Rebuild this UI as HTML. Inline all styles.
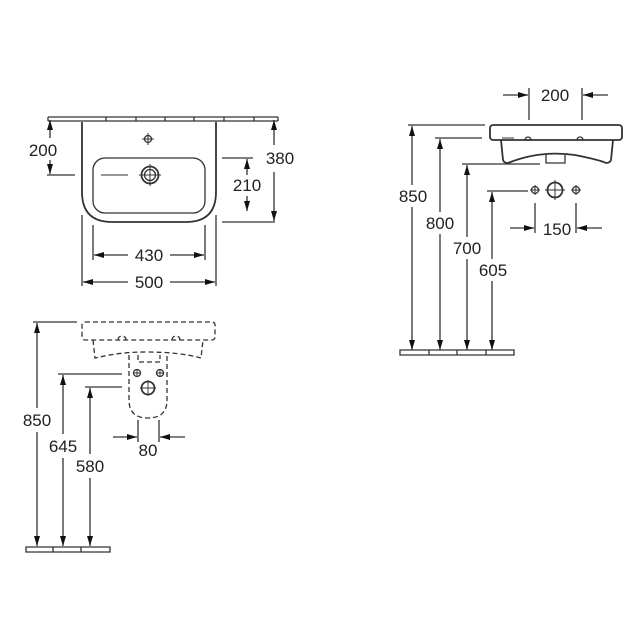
<!DOCTYPE html>
<html><head><meta charset="utf-8"><style>
html,body{margin:0;padding:0;background:#fff;width:640px;height:640px;overflow:hidden}
svg{display:block}
text{font-family:"Liberation Sans",sans-serif;font-size:17px;fill:#222;text-anchor:middle}
</style></head><body>
<svg width="640" height="640" viewBox="0 0 640 640" xmlns="http://www.w3.org/2000/svg">
<defs>
<marker id="a" viewBox="0 0 10 6" refX="10" refY="3" markerWidth="10" markerHeight="6" markerUnits="userSpaceOnUse" orient="auto"><path d="M0,0L10,3L0,6z" fill="#111"/></marker>
</defs>
<g stroke="#333" stroke-width="1.3" fill="none">
<path d="M48,117 H278 M48,121 H278 M48,117 V121 M278,117 V121 M106,117v4 M136,117v4 M165,117v4 M194,117v4 M224,117v4 M254,117v4"/>
<path d="M82,122 V192 Q82,222 112,222 H186 Q216,222 216,192 V122" stroke-width="1.8"/>
<rect x="93" y="158" width="112" height="55" rx="12"/>
<circle cx="148" cy="139" r="3.5"/><path d="M142,139h12 M148,133v12" stroke-width="1"/>
<circle cx="150" cy="175" r="8.5" stroke-width="1.8"/><circle cx="150" cy="175" r="5.5"/>
<path d="M101,175H128 M139,175h22 M150,164v22" stroke-width="1"/>
<path d="M47,175H75"/>
<line x1="50" y1="138" x2="50" y2="120" marker-end="url(#a)"/>
<line x1="50" y1="160" x2="50" y2="174" marker-end="url(#a)"/>
<path d="M222,158H253 M222,222H275"/>
<line x1="247" y1="175" x2="247" y2="159" marker-end="url(#a)"/>
<line x1="247" y1="196" x2="247" y2="211" marker-end="url(#a)"/>
<line x1="274" y1="145" x2="274" y2="120" marker-end="url(#a)"/>
<line x1="274" y1="172" x2="274" y2="221" marker-end="url(#a)"/>
<path d="M93,225V260 M205,225V260 M82,215V286 M216,215V286"/>
<line x1="128" y1="255" x2="94" y2="255" marker-end="url(#a)"/>
<line x1="170" y1="255" x2="204" y2="255" marker-end="url(#a)"/>
<line x1="128" y1="282" x2="83" y2="282" marker-end="url(#a)"/>
<line x1="170" y1="282" x2="215" y2="282" marker-end="url(#a)"/>

<path d="M529,88V120 M582,88V120"/>
<line x1="503" y1="95" x2="528" y2="95" marker-end="url(#a)"/>
<line x1="608" y1="95" x2="583" y2="95" marker-end="url(#a)"/>
<rect x="490" y="125" width="132" height="15" rx="3" stroke-width="1.8"/>
<path d="M501,140 L503,160 Q504,163 508,163 Q540,150 575,155 Q600,160 606,163 Q610,163 611,160 L613,140" stroke-width="1.8"/>
<path d="M546,155V163H565V155"/>
<path d="M525,140a3,3 0 0 1 6,0 M577,140a3,3 0 0 1 6,0"/>
<path d="M502,138h12" stroke-width="1"/>
<path d="M408,125H485 M435,138H482 M462,164H540 M487,191H528"/>
<line x1="412" y1="185" x2="412" y2="126" marker-end="url(#a)"/>
<line x1="412" y1="207" x2="412" y2="350" marker-end="url(#a)"/>
<line x1="440" y1="212" x2="440" y2="139" marker-end="url(#a)"/>
<line x1="440" y1="234" x2="440" y2="350" marker-end="url(#a)"/>
<line x1="467" y1="237" x2="467" y2="165" marker-end="url(#a)"/>
<line x1="467" y1="259" x2="467" y2="350" marker-end="url(#a)"/>
<line x1="492" y1="259" x2="492" y2="192" marker-end="url(#a)"/>
<line x1="492" y1="281" x2="492" y2="350" marker-end="url(#a)"/>
<path d="M400,350H514V355H400Z M429,350v5 M457,350v5 M486,350v5"/>
<circle cx="535" cy="190" r="3.5"/><path d="M530,190h10 M535,185v10" stroke-width="1"/>
<circle cx="576" cy="190" r="3.5"/><path d="M571,190h10 M576,185v10" stroke-width="1"/>
<circle cx="555" cy="190" r="7.5" stroke-width="1.8"/><path d="M545,190h20 M555,180v20" stroke-width="1"/>
<path d="M535,203V233 M576,203V233"/>
<line x1="510" y1="228" x2="534" y2="228" marker-end="url(#a)"/>
<line x1="602" y1="228" x2="577" y2="228" marker-end="url(#a)"/>

<g stroke-dasharray="5,3">
<rect x="82" y="322" width="133" height="18" rx="3"/>
<path d="M93,340 L95,358 Q120,352 145,352 Q180,352 201,358 L203,340"/>
<path d="M129,355 V400 Q129,418 148,418 Q167,418 167,400 V355"/>
<path d="M138,355 V362 H160 V355"/>
<path d="M118,340a4,4 0 0 1 8,0 M172,340a4,4 0 0 1 8,0"/>
</g>
<circle cx="137" cy="373" r="3.5"/><circle cx="160" cy="373" r="3.5"/>
<circle cx="148" cy="388" r="6.5" stroke-width="1.8"/>
<path d="M133,373h8 M137,369v8 M156,373h8 M160,369v8 M140,388h16 M148,380v16" stroke-width="0.9"/>
<path d="M33,322H77 M58,374H122 M85,387H122"/>
<line x1="37" y1="408" x2="37" y2="323" marker-end="url(#a)"/>
<line x1="37" y1="432" x2="37" y2="546" marker-end="url(#a)"/>
<line x1="63" y1="434" x2="63" y2="375" marker-end="url(#a)"/>
<line x1="63" y1="458" x2="63" y2="546" marker-end="url(#a)"/>
<line x1="90" y1="454" x2="90" y2="388" marker-end="url(#a)"/>
<line x1="90" y1="478" x2="90" y2="546" marker-end="url(#a)"/>
<path d="M26,547H110V552H26Z M53,547v5 M81,547v5"/>
<path d="M138,420V442 M159,420V442"/>
<line x1="113" y1="437" x2="137" y2="437" marker-end="url(#a)"/>
<line x1="185" y1="437" x2="160" y2="437" marker-end="url(#a)"/>
</g>
<text x="43" y="156">200</text>
<text x="280" y="164">380</text>
<text x="247" y="191">210</text>
<text x="149" y="261">430</text>
<text x="149" y="288">500</text>
<text x="555" y="101">200</text>
<text x="413" y="202">850</text>
<text x="440" y="229">800</text>
<text x="467" y="254">700</text>
<text x="493" y="276">605</text>
<text x="557" y="235">150</text>
<text x="37" y="426">850</text>
<text x="63" y="452">645</text>
<text x="90" y="472">580</text>
<text x="148" y="456">80</text>
</svg>
</body></html>
